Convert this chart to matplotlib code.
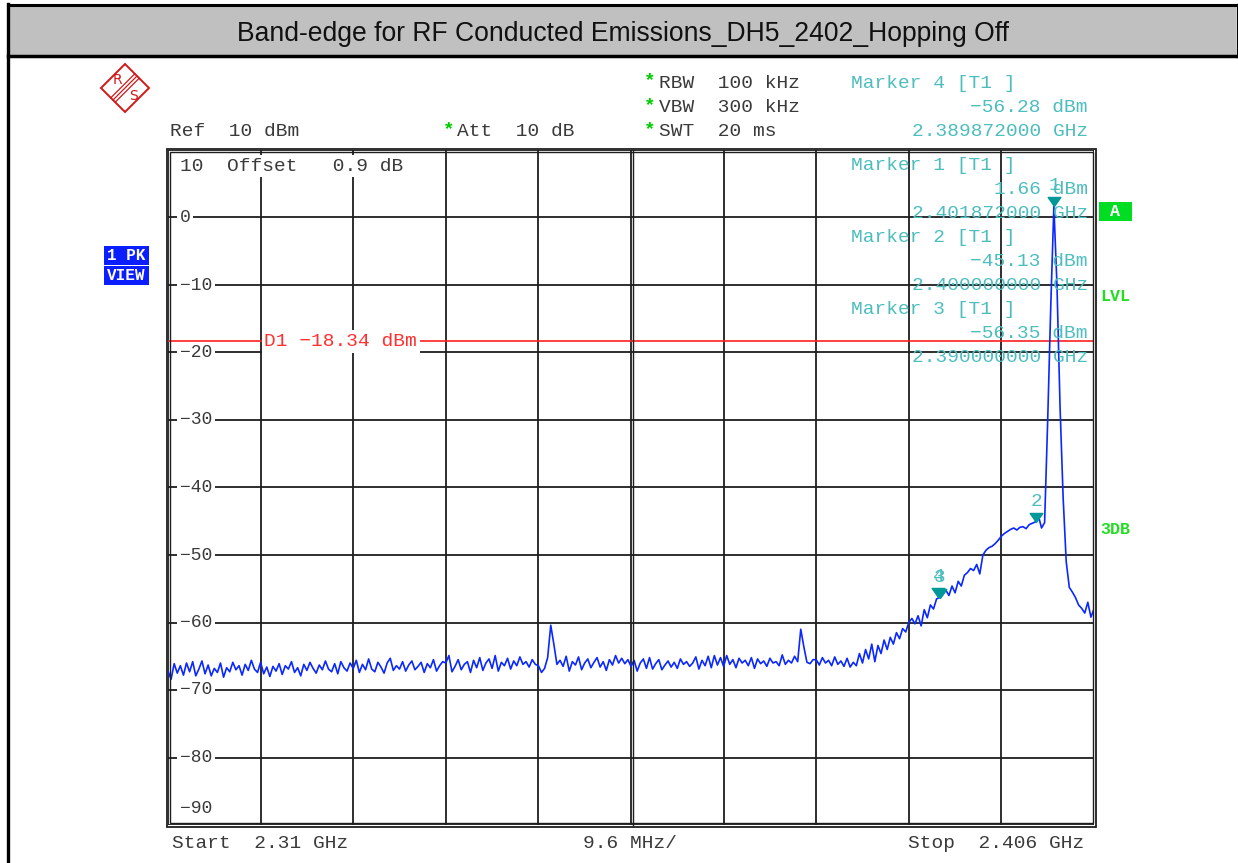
import matplotlib.pyplot as plt
import numpy as np
from matplotlib.patches import Rectangle, Polygon
from matplotlib.path import Path

W, H = 1238, 863

# sweep settings
start_ghz = 2.31
stop_ghz = 2.406
ref_dbm = 10
div_db = 10
display_line_dbm = -18.34

# peak trace, 301 sweep points from start to stop
trace_dbm = [
    -67.2, -68.4, -66.1, -67.5, -66.4, -67.8, -66.0, -67.3, -65.8, -67.9,
    -66.9, -65.7, -67.6, -66.3, -67.9, -66.8, -67.4, -66.0, -68.1, -66.7,
    -67.3, -65.9, -67.0, -66.4, -67.8, -66.2, -67.1, -65.6, -66.9, -67.4,
    -65.9, -67.6, -66.6, -68.0, -66.5, -67.2, -66.1, -67.7, -66.4, -66.9,
    -65.8, -67.4, -66.7, -67.9, -66.2, -67.1, -65.9, -66.8, -67.5, -66.3,
    -67.0, -65.7, -66.9, -67.3, -66.1, -67.6, -65.8, -66.7, -67.2, -66.0,
    -66.8, -65.6, -67.4, -66.2, -67.0, -65.4, -66.9, -67.3, -65.9, -66.6,
    -67.5, -66.0, -65.3, -67.1, -66.4, -66.9, -65.8, -67.2, -66.3, -65.7,
    -67.0, -66.5, -65.9, -67.4, -66.1, -66.7, -65.5, -67.2, -66.4, -65.8,
    -66.0, -64.9, -67.3, -66.5, -65.5, -67.0, -66.2, -65.8, -67.4, -65.6,
    -66.7, -65.2, -67.1, -66.0, -65.4, -66.8, -64.9, -67.2, -65.9, -66.4,
    -65.3, -66.9, -65.7, -66.4, -65.1, -66.2, -65.8, -66.6, -65.5, -66.2,
    -66.4, -67.4, -66.8, -65.2, -60.4, -63.2, -66.2, -65.6, -66.5, -65.0,
    -67.2, -65.8, -66.3, -65.1, -67.0, -66.0, -65.4, -66.7, -65.9, -65.2,
    -66.6, -65.8, -67.1, -65.5, -66.3, -64.9, -66.0, -65.3, -66.1, -65.5,
    -66.5, -65.6, -67.2, -66.0, -65.4, -66.8, -65.2, -66.9, -66.1, -65.5,
    -67.0, -66.3, -65.7, -66.6, -65.9, -66.8, -65.4, -66.2, -65.8, -66.5,
    -66.0, -65.1, -66.9, -65.6, -66.4, -65.0, -66.7, -64.9, -66.3, -65.2,
    -66.5, -64.9, -66.2, -65.5, -66.7, -65.3, -66.0, -65.6, -66.4, -65.2,
    -66.8, -65.4, -66.1, -65.7, -66.5, -65.3, -66.0, -65.8, -66.4, -64.8,
    -66.2, -65.6, -66.0, -65.0, -65.8, -61.0, -63.6, -65.9, -66.1, -65.5,
    -65.5, -66.3, -65.2, -66.0, -65.6, -66.4, -65.1, -66.2, -65.7, -66.5,
    -65.3, -66.6, -65.9, -66.4, -64.6, -66.0, -64.0, -65.4, -63.2, -65.8,
    -63.4, -64.6, -62.6, -64.0, -62.2, -63.2, -61.5, -62.4, -60.9, -61.4,
    -60.0, -59.4, -60.2, -59.0, -60.5, -58.1, -59.3, -57.4, -58.0, -56.5,
    -56.3, -55.8, -55.2, -56.0, -54.6, -55.6, -53.9, -54.6, -53.0, -52.6,
    -52.0, -52.3, -51.4, -52.8, -50.0, -49.3, -48.9, -48.7, -48.3, -47.8,
    -47.2, -46.8, -46.5, -46.2, -46.0, -46.3, -45.9, -45.8, -46.1, -45.5,
    -45.3, -45.1, -44.2, -46.0, -45.2, -30.0, -13.0, 1.66, -10.0, -28.0,
    -41.5, -51.0, -54.8, -55.5, -56.3, -57.4, -57.9, -58.6, -57.0, -59.2,
    -58.0,
]

# marker table, in the order it is listed
marker_ids = ["4", "1", "2", "3"]
marker_ghz = [2.389872, 2.401872, 2.400000, 2.390000]
marker_dbm = [-56.28, 1.66, -45.13, -56.35]

freq_ghz = np.linspace(start_ghz, stop_ghz, len(trace_dbm))

MONO = ["Liberation Mono", "DejaVu Sans Mono"]
GREY = "#3a3a3a"
TEAL = "#4dbdbd"
FS = 14


def minus(s):
    return s.replace("-", "\u2212")


fig = plt.figure(figsize=(W / 100, H / 100), dpi=100)

# plot area in pixels: x 168..1094, y 150..825
px_l, px_r, px_t, px_b = 168, 1094, 150, 825
ax = fig.add_axes([px_l / W, (H - px_b) / H, (px_r - px_l) / W, (px_b - px_t) / H])
ax.set_xlim(start_ghz, stop_ghz)
ax.set_ylim(ref_dbm - 10 * div_db, ref_dbm)
ax.set_xticks(np.linspace(start_ghz, stop_ghz, 11))
ax.set_yticks(np.arange(ref_dbm - 10 * div_db, ref_dbm + 1, div_db))
ax.tick_params(length=0, labelbottom=False, labelleft=False)
ax.set_axisbelow(True)
ax.grid(True, color="#1e1e1e", lw=1.3)
for s in ax.spines.values():
    s.set_visible(False)

# level labels sit inside the grid, breaking the line
for lvl in range(ref_dbm - 10 * div_db, ref_dbm + 1, div_db):
    y = lvl
    if lvl == ref_dbm:
        y = lvl - 2.4
    elif lvl == ref_dbm - 10 * div_db:
        y = lvl + 2.5
    txt = minus(str(lvl))
    size = 13
    if lvl == ref_dbm:
        txt = "10  Offset   0.9 dB"
        size = FS
    ax.text(0.013, y, txt, transform=ax.get_yaxis_transform(), ha="left",
            va="center", family=MONO, fontsize=size, color=GREY, zorder=1.5,
            bbox=dict(facecolor="white", edgecolor="none", pad=2))

# display line D1
ax.axhline(display_line_dbm, color="#ff2020", lw=1.2, zorder=1.6)
ax.text(0.104, display_line_dbm, minus(f"D1 {display_line_dbm:.2f} dBm"),
        transform=ax.get_yaxis_transform(), ha="left", va="center",
        family=MONO, fontsize=FS, color="#ff3030", zorder=1.7,
        bbox=dict(facecolor="white", edgecolor="none", pad=2))

ax.plot(freq_ghz, trace_dbm, color="#0a28ff", lw=1.2, zorder=2)

# downward triangle with its tip on the marker position
tip = Path([(-0.7, 1.0), (0.7, 1.0), (0.0, 0.0), (-0.7, 1.0)],
           [Path.MOVETO, Path.LINETO, Path.LINETO, Path.CLOSEPOLY])
ax.plot(marker_ghz, marker_dbm, ls="none", marker=tip, ms=13,
        color="#009898", zorder=3, clip_on=False)
for mid, f, d in zip(marker_ids, marker_ghz, marker_dbm):
    ax.annotate(mid, (f, d), xytext=(0, 15), textcoords="offset points",
                ha="center", va="center", family=MONO, fontsize=FS,
                color=TEAL, zorder=4)

# page furniture in pixel coordinates
ov = fig.add_axes([0, 0, 1, 1])
ov.set_xlim(0, W)
ov.set_ylim(H, 0)
ov.axis("off")

ov.add_patch(Rectangle((9, 6), 1227, 50, facecolor="#c0c0c0", edgecolor="none"))
ov.plot([8, 1237], [5, 5], color="black", lw=2.2)
ov.plot([8, 1237], [56, 56], color="black", lw=2.5)
ov.plot([8, 8], [4, H], color="black", lw=2.4)
ov.plot([1236.5, 1236.5], [4, 57], color="black", lw=1.0)
ov.text(623, 34, "Band-edge for RF Conducted Emissions_DH5_2402_Hopping Off",
        ha="center", va="center", family="Liberation Sans", fontsize=19.1,
        color="#111111")

# double frame round the grid and the double centre line
ov.add_patch(Rectangle((166.5, 149.5), 929.5, 677, fill=False,
                       edgecolor="#1e1e1e", lw=1.3))
ov.add_patch(Rectangle((169.5, 152.5), 923.5, 670.5, fill=False,
                       edgecolor="#1e1e1e", lw=1.0))
ov.plot([632.5, 632.5], [150, 825], color="#1e1e1e", lw=1.0)

# R&S logo
cx, cy, r = 125, 88, 24
ov.add_patch(Polygon([(cx, cy - r), (cx + r, cy), (cx, cy + r), (cx - r, cy)],
                     closed=True, fill=False, edgecolor="#d01818", lw=1.4))
for off in (-2.2, 0, 2.2):
    ov.plot([cx + 12 + off, cx - 12 + off], [cy - 12 + off, cy + 12 + off],
            color="#d01818", lw=0.9)
ov.text(cx - 8, cy - 8, "R", ha="center", va="center", family="DejaVu Sans",
        fontsize=10, color="#d01818")
ov.text(cx + 8, cy + 8, "S", ha="center", va="center", family="DejaVu Sans",
        fontsize=10, color="#d01818")

# trace mode boxes
for y0, lab in ((246, "1 PK"), (266, "VIEW")):
    ov.add_patch(Rectangle((104, y0), 45, 19, facecolor="#0a1eff", edgecolor="none"))
    ov.text(126.5, y0 + 9.5, lab, ha="center", va="center", family=MONO,
            fontsize=11.5, fontweight="bold", color="white")

# right-hand status flags
ov.add_patch(Rectangle((1099, 202), 33, 19, facecolor="#00dd22", edgecolor="none"))
ov.text(1115.5, 211.5, "A", ha="center", va="center", family=MONO,
        fontsize=12, fontweight="bold", color="white")
ov.text(1100, 296, "LVL", ha="left", va="center", family=MONO, fontsize=12,
        fontweight="bold", color="#22dd22")
ov.text(1100, 529, "3DB", ha="left", va="center", family=MONO, fontsize=12,
        fontweight="bold", color="#22dd22")

# instrument settings
for y, s in ((83, "RBW  100 kHz"), (108, "VBW  300 kHz"), (132, "SWT  20 ms")):
    ov.text(650, y - 2, "*", ha="center", va="center", family=MONO,
            fontsize=FS, fontweight="bold", color="#00cc00")
    ov.text(659, y, s, ha="left", va="center", family=MONO, fontsize=FS,
            color=GREY)
ov.text(449, 130, "*", ha="center", va="center", family=MONO, fontsize=FS,
        fontweight="bold", color="#00cc00")
ov.text(457, 132, "Att  10 dB", ha="left", va="center", family=MONO,
        fontsize=FS, color=GREY)
ov.text(170, 132, "Ref  10 dBm", ha="left", va="center", family=MONO,
        fontsize=FS, color=GREY)

# marker table
row_y = 84
for mid, f, d in zip(marker_ids, marker_ghz, marker_dbm):
    ov.text(851, row_y, f"Marker {mid} [T1 ]", ha="left", va="center",
            family=MONO, fontsize=FS, color=TEAL)
    ov.text(1088, row_y + 24, minus(f"{d:.2f} dBm"), ha="right", va="center",
            family=MONO, fontsize=FS, color=TEAL)
    ov.text(1088, row_y + 48, f"{f:.9f} GHz", ha="right", va="center",
            family=MONO, fontsize=FS, color=TEAL)
    row_y += 72 if mid != "4" else 81

# frequency axis annotations
ov.text(172, 843, f"Start  {start_ghz:g} GHz", ha="left", va="center",
        family=MONO, fontsize=FS, color=GREY)
ov.text(583, 843, f"{(stop_ghz - start_ghz) * 100:.1f} MHz/", ha="left",
        va="center", family=MONO, fontsize=FS, color=GREY)
ov.text(1084, 843, f"Stop  {stop_ghz:g} GHz", ha="right", va="center",
        family=MONO, fontsize=FS, color=GREY)

fig.savefig("out.png", dpi=100)
